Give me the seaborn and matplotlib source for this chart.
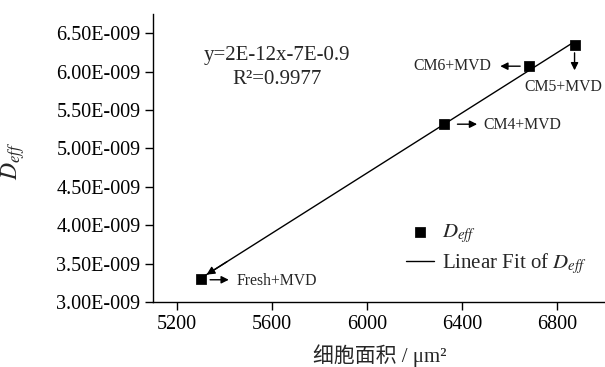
import numpy as np
import pandas as pd
import matplotlib
matplotlib.use("Agg")
import matplotlib.pyplot as plt
import seaborn as sns

# data
labels = ["Fresh+MVD", "CM4+MVD", "CM6+MVD", "CM5+MVD"]
cell_area = [5300, 6324, 6682, 6872]
deff = [3.30e-9, 5.32e-9, 6.07e-9, 6.34e-9]
x_ticks = [5200, 5600, 6000, 6400, 6800]
y_ticks = [3.0e-9, 3.5e-9, 4.0e-9, 4.5e-9, 5.0e-9, 5.5e-9, 6.0e-9, 6.5e-9]
eq_text = "y=2E-12x-7E-0.9"
r2_text = "R²=0.9977"

sns.set_style("ticks")
plt.rcParams['font.family'] = ['Liberation Serif', 'Noto Sans CJK SC', 'DejaVu Sans']
plt.rcParams['mathtext.fontset'] = 'stix'

df = pd.DataFrame({"area": cell_area, "deff": deff, "label": labels})
slope, intercept = np.polyfit(df["area"], df["deff"], 1)
fx = np.array([min(cell_area), max(cell_area)])
fit_df = pd.DataFrame({"area": fx, "deff": slope * fx + intercept})

fig = plt.figure(figsize=(6.05, 3.67), dpi=100)
ax = fig.add_axes([0.253, 0.177, 0.747, 0.785])

sns.lineplot(data=fit_df, x="area", y="deff", ax=ax, color="black", lw=1.0,
             label="Linear Fit of $D_{eff}$", zorder=2)
sns.scatterplot(data=df, x="area", y="deff", ax=ax, marker="s", color="black",
                s=45, edgecolor="black", label="$D_{eff}$", zorder=3)

# arrowhead at lower end of the fit line
ax.annotate("", xy=(fx[0] + 15, slope * (fx[0] + 15) + intercept),
            xytext=(fx[0] + 120, slope * (fx[0] + 120) + intercept),
            arrowprops=dict(arrowstyle="-|>", color="black", lw=1.0, mutation_scale=12))

fs_ann = 11.3
aprops = dict(arrowstyle="-|>", color="black", lw=1.0, mutation_scale=11)
# Fresh
ax.annotate("", xy=(5430, 3.29e-9), xytext=(5328, 3.29e-9), arrowprops=aprops)
ax.text(5453, 3.27e-9, labels[0], fontsize=fs_ann, va="center", ha="left")
# CM4
ax.annotate("", xy=(6474, 5.315e-9), xytext=(6368, 5.315e-9), arrowprops=aprops)
ax.text(6488, 5.31e-9, labels[1], fontsize=fs_ann, va="center", ha="left")
# CM6
ax.annotate("", xy=(6548, 6.07e-9), xytext=(6655, 6.07e-9), arrowprops=aprops)
ax.text(6522, 6.075e-9, labels[2], fontsize=fs_ann, va="center", ha="right")
# CM5
ax.annotate("", xy=(cell_area[3], 5.98e-9), xytext=(cell_area[3], 6.28e-9), arrowprops=aprops)
ax.text(6826, 5.80e-9, labels[3], fontsize=fs_ann, va="center", ha="center")

ax.text(0.274, 0.855, eq_text, transform=ax.transAxes, fontsize=15, ha="center", va="center")
ax.text(0.274, 0.772, r2_text, transform=ax.transAxes, fontsize=15, ha="center", va="center")

ax.set_xlim(5100, 7000)
ax.set_ylim(3.0e-9, 6.75e-9)
ax.set_xticks(x_ticks)
ax.set_yticks(y_ticks)
ax.set_yticklabels([f"{v*1e9:.2f}E-009" for v in y_ticks])
ax.tick_params(labelsize=14.5, direction="out", length=6, width=1, colors="black", pad=3)
for sp in ["top", "right"]:
    ax.spines[sp].set_visible(False)
for sp in ["left", "bottom"]:
    ax.spines[sp].set_linewidth(1.0)
    ax.spines[sp].set_color("black")

ax.set_xlabel("细胞面积 / μm²", fontsize=15)
ax.set_ylabel("$D_{eff}$", fontsize=17)
ax.xaxis.set_label_coords(0.502, -0.145)
ax.yaxis.set_label_coords(-0.279, 0.49)

h, l = ax.get_legend_handles_labels()
ax.legend(h[::-1], l[::-1], loc="center left", bbox_to_anchor=(0.56, 0.183), frameon=False,
          fontsize=15, handlelength=1.35, handletextpad=0.35, labelspacing=0.3,
          borderaxespad=0, borderpad=0)

fig.savefig("out.png", dpi=100)
